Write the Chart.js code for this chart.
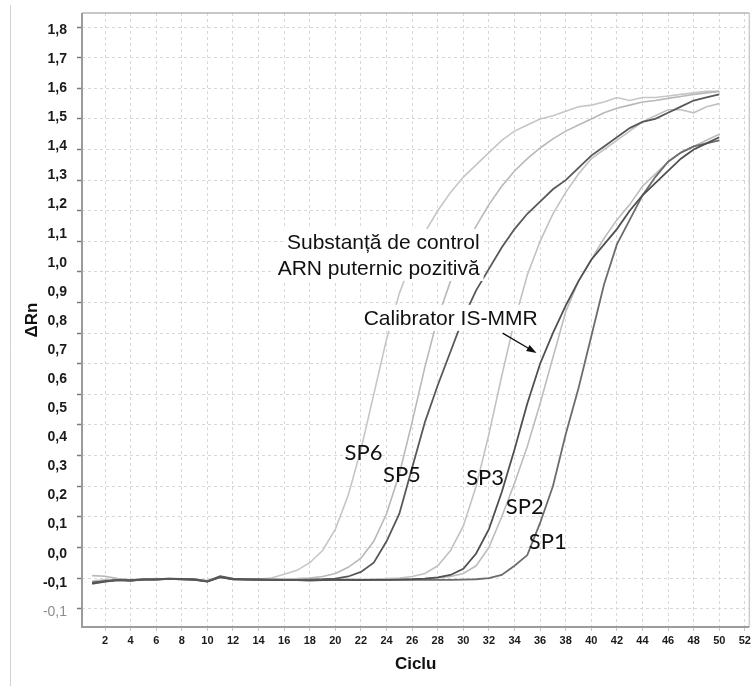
<!DOCTYPE html>
<html lang="ro">
<head>
<meta charset="UTF-8">
<title>ΔRn / Ciclu</title>
<script src="https://cdn.jsdelivr.net/npm/chart.js"></script>
<style>
    html, body { margin: 0; padding: 0; background: #fff; }
    #wrap { width: 754px; height: 686px; }
</style>
</head>
<body>
<div id="wrap"><canvas id="chart" width="754" height="686"></canvas></div>
<script>
    // cycles 1..50
    const cycles = [1, 2, 3, 4, 5, 6, 7, 8, 9, 10,
        11, 12, 13, 14, 15, 16, 17, 18, 19, 20,
        21, 22, 23, 24, 25, 26, 27, 28, 29, 30,
        31, 32, 33, 34, 35, 36, 37, 38, 39, 40,
        41, 42, 43, 44, 45, 46, 47, 48, 49, 50];

    const xTickValues = [2, 4, 6, 8, 10, 12, 14, 16, 18, 20, 22, 24, 26, 28, 30, 32, 34, 36, 38, 40, 42, 44, 46, 48, 50, 52];
    const xTickLabels = ['2', '4', '6', '8', '10', '12', '14', '16', '18', '20', '22', '24', '26', '28', '30', '32', '34', '36', '38', '40', '42', '44', '46', '48', '50', '52'];
    const yTickValues = [-0.1, 0, 0.1, 0.2, 0.3, 0.4, 0.5, 0.6, 0.7, 0.8, 0.9, 1.0, 1.1, 1.2, 1.3, 1.4, 1.5, 1.6, 1.7, 1.8];
    // labels as printed on the figure (top to bottom)
    const yTickLabels = ['1,8', '1,7', '1,6', '1,5', '1,4', '1,3', '1,2', '1,1', '1,0', '0,9', '0,8',
        '0,7', '0,6', '0,5', '0,4', '0,3', '0,2', '0,1', '0,0', '-0,1', '-0,1'];

    const sp6 = [-0.020, -0.012, -0.008, -0.006, -0.004, -0.005, -0.003, -0.004, -0.006, -0.012,
        0.004, -0.003, -0.004, -0.003, 0.000, 0.012, 0.025, 0.050, 0.090, 0.160,
        0.27, 0.42, 0.60, 0.78, 0.93, 1.04, 1.13, 1.20, 1.26, 1.31,
        1.35, 1.39, 1.43, 1.46, 1.48, 1.50, 1.51, 1.525, 1.54, 1.545,
        1.555, 1.57, 1.56, 1.57, 1.57, 1.575, 1.58, 1.585, 1.59, 1.59];
    const sp5 = [0.008, 0.006, -0.002, -0.006, -0.004, -0.002, -0.004, -0.003, -0.005, -0.010,
        0.005, -0.004, -0.003, -0.004, -0.002, -0.003, -0.002, 0.000, 0.005, 0.015,
        0.035, 0.065, 0.12, 0.21, 0.34, 0.51, 0.69, 0.85, 0.97, 1.07,
        1.15, 1.22, 1.28, 1.33, 1.37, 1.405, 1.435, 1.46, 1.48, 1.50,
        1.52, 1.535, 1.545, 1.555, 1.56, 1.567, 1.573, 1.58, 1.585, 1.59];
    const control = [-0.015, -0.010, -0.006, -0.008, -0.004, -0.004, -0.002, -0.003, -0.004, -0.011,
        0.006, -0.002, -0.004, -0.004, -0.005, -0.006, -0.006, -0.005, -0.004, -0.002,
        0.005, 0.02, 0.05, 0.12, 0.21, 0.36, 0.51, 0.63, 0.74, 0.85,
        0.94, 1.01, 1.08, 1.14, 1.19, 1.23, 1.27, 1.30, 1.34, 1.38,
        1.41, 1.44, 1.47, 1.49, 1.50, 1.52, 1.54, 1.56, 1.57, 1.58];
    const sp3 = [-0.012, -0.008, -0.005, -0.007, -0.003, -0.004, -0.002, -0.003, -0.005, -0.009,
        0.004, -0.003, -0.004, -0.005, -0.005, -0.006, -0.005, -0.005, -0.004, -0.005,
        -0.004, -0.005, -0.004, -0.002, 0.000, 0.005, 0.015, 0.04, 0.09, 0.17,
        0.30, 0.47, 0.66, 0.84, 0.99, 1.10, 1.19, 1.26, 1.32, 1.37,
        1.40, 1.43, 1.46, 1.49, 1.51, 1.53, 1.53, 1.52, 1.54, 1.55];
    const calibrator = [-0.018, -0.012, -0.007, -0.008, -0.005, -0.005, -0.003, -0.004, -0.006, -0.012,
        0.003, -0.004, -0.005, -0.006, -0.006, -0.007, -0.007, -0.008, -0.007, -0.006,
        -0.006, -0.007, -0.006, -0.006, -0.005, -0.004, -0.002, 0.002, 0.01, 0.03,
        0.08, 0.16, 0.28, 0.42, 0.57, 0.70, 0.80, 0.89, 0.97, 1.04,
        1.09, 1.14, 1.20, 1.25, 1.29, 1.33, 1.37, 1.40, 1.42, 1.44];
    const sp2 = [-0.010, -0.006, -0.004, -0.006, -0.003, -0.003, -0.002, -0.003, -0.004, -0.008,
        0.004, -0.003, -0.004, -0.004, -0.005, -0.005, -0.005, -0.006, -0.005, -0.005,
        -0.004, -0.005, -0.004, -0.004, -0.003, -0.003, -0.002, 0.000, 0.005, 0.015,
        0.04, 0.10, 0.20, 0.31, 0.43, 0.57, 0.72, 0.87, 0.97, 1.04,
        1.11, 1.17, 1.22, 1.28, 1.32, 1.36, 1.39, 1.41, 1.43, 1.45];
    const sp1 = [-0.016, -0.011, -0.007, -0.008, -0.005, -0.005, -0.003, -0.004, -0.005, -0.011,
        0.003, -0.004, -0.005, -0.006, -0.006, -0.007, -0.007, -0.007, -0.006, -0.006,
        -0.006, -0.006, -0.006, -0.006, -0.006, -0.006, -0.006, -0.006, -0.006, -0.005,
        -0.004, 0.000, 0.01, 0.04, 0.075, 0.18, 0.30, 0.47, 0.62, 0.79,
        0.96, 1.09, 1.17, 1.25, 1.31, 1.36, 1.39, 1.41, 1.42, 1.43];

    // text on the plot, anchored in data units (cycle, ΔRn)
    const notes = [
        { text: 'Substanță de control', cycle: 31.27, value: 1.098, kind: 'box' },
        { text: 'ARN puternic pozitivă', cycle: 31.27, value: 1.013, kind: 'box' },
        { text: 'Calibrator IS-MMR', cycle: 35.80, value: 0.850, kind: 'box' },
        { text: 'SP6', cycle: 22.2, value: 0.41, kind: 'sp' },
        { text: 'SP5', cycle: 25.2, value: 0.337, kind: 'sp' },
        { text: 'SP3', cycle: 31.7, value: 0.327, kind: 'sp' },
        { text: 'SP2', cycle: 34.8, value: 0.232, kind: 'sp' },
        { text: 'SP1', cycle: 36.6, value: 0.118, kind: 'sp' }
    ];
    const arrow = { from: [33.07, 0.80], to: [35.72, 0.735] };

    function toPoints(values) {
        return cycles.map((c, i) => ({ x: c, y: values[i] }));
    }

    const overlay = {
        id: 'overlay',
        afterDatasetsDraw(chart) {
            const { ctx, scales: { x, y } } = chart;
            ctx.save();
            ctx.textBaseline = 'middle';
            notes.forEach(n => {
                const px = x.getPixelForValue(n.cycle);
                const py = y.getPixelForValue(n.value);
                if (n.kind === 'box') {
                    ctx.font = '21px "Liberation Sans", Arial, sans-serif';
                    const w = ctx.measureText(n.text).width;
                    ctx.fillStyle = '#fff';
                    ctx.fillRect(px - w - 4, py - 13, w + 8, 26);
                    ctx.fillStyle = '#111';
                    ctx.textAlign = 'right';
                    ctx.fillText(n.text, px, py + 1);
                } else {
                    ctx.font = '22px Lato, "DejaVu Sans", sans-serif';
                    ctx.fillStyle = '#111';
                    ctx.textAlign = 'center';
                    ctx.fillText(n.text, px, py);
                }
            });
            // arrow to the calibrator curve
            const x1 = x.getPixelForValue(arrow.from[0]), y1 = y.getPixelForValue(arrow.from[1]);
            const x2 = x.getPixelForValue(arrow.to[0]), y2 = y.getPixelForValue(arrow.to[1]);
            const ang = Math.atan2(y2 - y1, x2 - x1);
            ctx.strokeStyle = '#111';
            ctx.fillStyle = '#111';
            ctx.lineWidth = 1.3;
            ctx.beginPath();
            ctx.moveTo(x1, y1);
            ctx.lineTo(x2 - 7 * Math.cos(ang), y2 - 7 * Math.sin(ang));
            ctx.stroke();
            ctx.beginPath();
            ctx.moveTo(x2, y2);
            ctx.lineTo(x2 - 10 * Math.cos(ang) + 3.5 * Math.sin(ang), y2 - 10 * Math.sin(ang) - 3.5 * Math.cos(ang));
            ctx.lineTo(x2 - 10 * Math.cos(ang) - 3.5 * Math.sin(ang), y2 - 10 * Math.sin(ang) + 3.5 * Math.cos(ang));
            ctx.closePath();
            ctx.fill();
            ctx.restore();
        },
        afterDraw(chart) {
            const { ctx, chartArea: a } = chart;
            ctx.save();
            // frame of the plot area
            ctx.lineWidth = 1.5;
            ctx.strokeStyle = '#b4b4b4';
            ctx.beginPath();
            ctx.moveTo(a.left, a.top); ctx.lineTo(a.right, a.top);
            ctx.stroke();
            ctx.strokeStyle = '#cccccc';
            ctx.beginPath();
            ctx.moveTo(a.right, a.top); ctx.lineTo(a.right, a.bottom);
            ctx.stroke();
            ctx.lineWidth = 2;
            ctx.strokeStyle = '#9c9c9c';
            ctx.beginPath();
            ctx.moveTo(a.left, a.top); ctx.lineTo(a.left, a.bottom); ctx.lineTo(a.right, a.bottom);
            ctx.stroke();
            // outer page rule on the left
            ctx.lineWidth = 1;
            ctx.strokeStyle = '#d2d2d2';
            ctx.beginPath();
            ctx.moveTo(10.5, 5); ctx.lineTo(10.5, 686);
            ctx.stroke();
            ctx.restore();
        }
    };

    const lastLabel = yTickLabels.length - 1;

    new Chart(document.getElementById('chart'), {
        type: 'line',
        data: {
            datasets: [
                { label: 'Substanță de control', data: toPoints(control), borderColor: '#585858', borderWidth: 1.8 },
                { label: 'Calibrator IS-MMR', data: toPoints(calibrator), borderColor: '#505050', borderWidth: 1.8 },
                { label: 'SP1', data: toPoints(sp1), borderColor: '#6c6c6c', borderWidth: 1.8 },
                { label: 'SP2', data: toPoints(sp2), borderColor: '#bcbcbc', borderWidth: 1.6 },
                { label: 'SP3', data: toPoints(sp3), borderColor: '#c2c2c2', borderWidth: 1.6 },
                { label: 'SP5', data: toPoints(sp5), borderColor: '#b8b8b8', borderWidth: 1.6 },
                { label: 'SP6', data: toPoints(sp6), borderColor: '#c6c6c6', borderWidth: 1.6 }
            ]
        },
        options: {
            responsive: false,
            devicePixelRatio: 1,
            animation: false,
            elements: { point: { radius: 0 }, line: { tension: 0, fill: false } },
            layout: { autoPadding: false, padding: { left: 0, top: 13, right: 4, bottom: 0 } },
            plugins: { legend: { display: false }, tooltip: { enabled: false } },
            scales: {
                x: {
                    type: 'linear',
                    min: 0.2,
                    max: 52.35,
                    afterBuildTicks: s => { s.ticks = xTickValues.map(v => ({ value: v })); },
                    afterFit: s => { s.height = 59; },
                    ticks: {
                        autoSkip: false,
                        maxRotation: 0,
                        padding: 3,
                        color: '#1a1a1a',
                        font: { family: '"Liberation Sans", Arial, sans-serif', size: 11, weight: 'bold' },
                        callback: (v, i) => xTickLabels[i]
                    },
                    grid: { color: '#d8d8d8', lineWidth: 1, tickLength: 4, tickColor: '#c4c4c4' },
                    border: { display: false, dash: [3, 3] },
                    title: {
                        display: true,
                        text: 'Ciclu',
                        color: '#111',
                        font: { family: '"Liberation Sans", Arial, sans-serif', size: 17, weight: 'bold' },
                        padding: { top: 0, bottom: 11 }
                    }
                },
                y: {
                    type: 'linear',
                    position: 'left',
                    weight: 0,
                    min: -0.16,
                    max: 1.846,
                    afterBuildTicks: s => { s.ticks = yTickValues.map(v => ({ value: v })); },
                    afterFit: s => { s.width = 5; },
                    ticks: { display: false },
                    grid: { color: '#d8d8d8', lineWidth: 1, tickLength: 5, tickColor: '#7a7a7a', tickWidth: 1.5 },
                    border: { display: false, dash: [3, 3] }
                },
                yl: {
                    type: 'linear',
                    position: 'left',
                    weight: 1,
                    reverse: true,
                    min: -0.584,
                    max: 20.52,
                    afterBuildTicks: s => { s.ticks = yTickLabels.map((t, i) => ({ value: i })); },
                    afterFit: s => { s.width = 77; },
                    ticks: {
                        autoSkip: false,
                        padding: 2,
                        color: c => c.index === lastLabel ? '#8c8c8c' : '#1a1a1a',
                        font: c => ({
                            family: '"Liberation Sans", Arial, sans-serif',
                            size: 14,
                            weight: c.index === lastLabel ? 'normal' : 'bold'
                        }),
                        callback: (v, i) => yTickLabels[i]
                    },
                    grid: { display: false },
                    border: { display: false },
                    title: {
                        display: true,
                        text: 'ΔRn',
                        color: '#111',
                        font: { family: '"Liberation Sans", Arial, sans-serif', size: 17, weight: 'bold' },
                        padding: { top: 22, bottom: 0 }
                    }
                }
            }
        },
        plugins: [overlay]
    });
</script>
</body>
</html>
